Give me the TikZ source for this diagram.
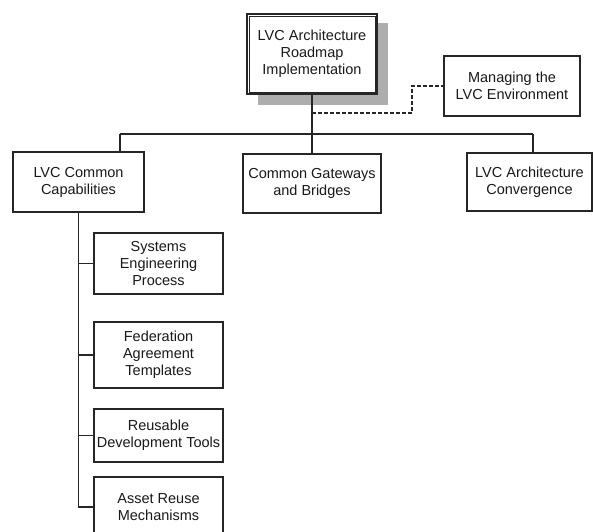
\documentclass[tikz,border=0pt]{standalone}
\usepackage{fontspec}
\setmainfont{Liberation Sans}
\begin{document}
\begin{tikzpicture}[x=1pt,y=-1pt,
  box/.style={draw=black!85, line width=1.3pt, align=center, inner sep=0pt,
    font=\fontsize{14.5}{17}\selectfont, text=black!90, fill=white},
  conn/.style={draw=black!85, line width=1.3pt},
  dashconn/.style={draw=black!85, line width=1.5pt, dash pattern=on 4pt off 2pt}]
\useasboundingbox (0,0) rectangle (593,531);
\clip (0,0) rectangle (593,531);
% shadow of top box
\fill[black!32] (258,23) rectangle (388,105);
% top box
\node[box, line width=2.6pt, minimum width=130pt, minimum height=80pt] (top) at (312,54)
  {LVC Architecture\\Roadmap\\Implementation};
\draw[black!85, line width=0.7pt] ([shift={(3.4pt,3.4pt)}]top.south west) rectangle ([shift={(-3.4pt,-3.4pt)}]top.north east);
% other boxes
\node[box, minimum width=136pt, minimum height=60pt] (mg) at (512,86) {Managing the\\LVC Environment};
\node[box, minimum width=131pt, minimum height=60pt] (cap) at (78.5,182) {LVC Common\\Capabilities};
\node[box, minimum width=138pt, minimum height=59pt] (gw) at (312,183.5) {Common Gateways\\and Bridges};
\node[box, minimum width=125pt, minimum height=58pt] (conv) at (529.5,182) {LVC Architecture\\Convergence};
\node[box, minimum width=129pt, minimum height=61pt] (sys) at (158.5,263.5) {Systems\\Engineering\\Process};
\node[box, minimum width=129pt, minimum height=66pt] (fed) at (158.5,355) {Federation\\Agreement\\Templates};
\node[box, minimum width=129pt, minimum height=53pt] (reu) at (158.5,435.5) {Reusable\\Development Tools};
\node[box, minimum width=129pt, minimum height=60pt] (ast) at (158.5,507) {Asset Reuse\\Mechanisms};
% connectors
\coordinate (busL) at (120,134);
\coordinate (busR) at (533,134);
\coordinate (dj) at (312,113);
\draw[conn] (top.south) -- (gw.north);
\draw[conn] (busL) -- (busR);
\draw[conn] (busL) -- (busL |- cap.north);
\draw[conn] (busR) -- (busR |- conv.north);
\draw[conn] (cap.south) |- (sys.west);
\draw[conn] (cap.south) |- (fed.west);
\draw[conn] (cap.south) |- (reu.west);
\draw[conn] (cap.south) |- (ast.west);
\draw[dashconn] (dj) -- ++(100,0) |- (mg.west);
\end{tikzpicture}
\end{document}
